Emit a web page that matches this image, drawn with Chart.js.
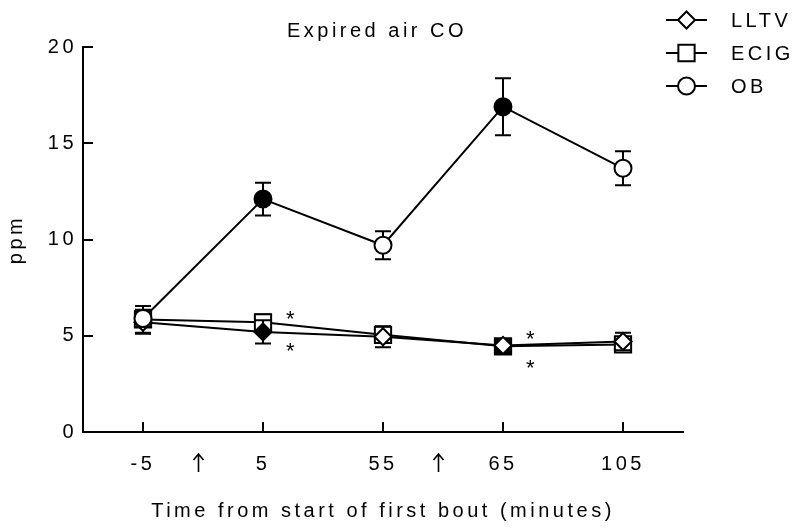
<!DOCTYPE html>
<html>
<head>
<meta charset="utf-8">
<script src="https://cdn.jsdelivr.net/npm/chart.js@4"></script>
<style>
  body { margin: 0; background: #fff; }
</style>
</head>
<body>
<canvas id="co_chart" width="800" height="532"></canvas>
<script>
const time_labels = ["-5", "5", "55", "65", "105"];
const lltv_mean = [5.7, 5.2, 4.95, 4.5, 4.7];
const lltv_sem = [0.6, 0.6, 0.55, 0.25, 0.45];
const lltv_fill = ["#fff", "#000", "#fff", "#fff", "#fff"];
const ecig_mean = [5.85, 5.7, 5.05, 4.45, 4.55];
const ecig_sem = [0.7, 0.4, 0.4, 0.3, 0.2];
const ecig_fill = ["#fff", "#fff", "#fff", "#000", "#fff"];
const ob_mean = [5.9, 12.1, 9.7, 16.9, 13.7];
const ob_sem = [0.45, 0.85, 0.73, 1.48, 0.88];
const ob_fill = ["#fff", "#000", "#fff", "#000", "#fff"];
// significance marks: category index and the value the * sits at
const star_index = [1, 1, 3, 3];
const star_value = [5.8, 4.15, 4.8, 3.3];
// a bout starts between category i and i + 1
const bout_after = [0, 2];

const font_family = '"Liberation Sans", Arial, sans-serif';
const letter_spacing = "3.5px";

const set_spacing = (chart) => {
  chart.ctx.letterSpacing = letter_spacing;
};

const draw_marker = (ctx, style, x, y, r, fill) => {
  ctx.beginPath();
  if (style === "circle") ctx.arc(x, y, r, 0, Math.PI * 2);
  else if (style === "rect") {
    const s = r * Math.SQRT1_2;
    ctx.rect(x - s, y - s, 2 * s, 2 * s);
  }
  else {
    ctx.moveTo(x - r, y);
    ctx.lineTo(x, y - r);
    ctx.lineTo(x + r, y);
    ctx.lineTo(x, y + r);
    ctx.closePath();
  }
  ctx.fillStyle = fill;
  ctx.fill();
  ctx.stroke();
};

const spacing_plugin = {
  id: "spacing",
  beforeUpdate: set_spacing,
  beforeLayout: set_spacing,
  beforeDraw: set_spacing,
};

const error_bar_plugin = {
  id: "error_bars",
  beforeDatasetDraw: (chart, args) => {
    const dataset = chart.data.datasets[args.index];
    const y_scale = chart.scales.y;
    const ctx = chart.ctx;
    ctx.save();
    ctx.strokeStyle = "#000";
    ctx.lineWidth = 2;
    args.meta.data.forEach((point, i) => {
      const top = y_scale.getPixelForValue(dataset.data[i] + dataset.sem[i]);
      const bottom = y_scale.getPixelForValue(dataset.data[i] - dataset.sem[i]);
      ctx.beginPath();
      ctx.moveTo(point.x, top);
      ctx.lineTo(point.x, bottom);
      ctx.moveTo(point.x - 8, top);
      ctx.lineTo(point.x + 8, top);
      ctx.moveTo(point.x - 8, bottom);
      ctx.lineTo(point.x + 8, bottom);
      ctx.stroke();
    });
    ctx.restore();
  },
};

const extras_plugin = {
  id: "extras",
  afterDraw: (chart) => {
    const ctx = chart.ctx;
    const area = chart.chartArea;
    const x_scale = chart.scales.x;
    const y_scale = chart.scales.y;
    ctx.save();
    ctx.letterSpacing = letter_spacing;
    ctx.strokeStyle = "#000";
    ctx.fillStyle = "#000";
    ctx.lineWidth = 2;

    // inward tick marks
    ctx.beginPath();
    x_scale.ticks.forEach((tick, i) => {
      const x = Math.round(x_scale.getPixelForTick(i));
      ctx.moveTo(x, area.bottom);
      ctx.lineTo(x, area.bottom - 10);
    });
    y_scale.ticks.forEach((tick, i) => {
      if (tick.value === 0) return;
      const y = Math.round(y_scale.getPixelForTick(i));
      ctx.moveTo(area.left, y);
      ctx.lineTo(area.left + 10, y);
    });
    ctx.stroke();

    // title
    ctx.font = `20px ${font_family}`;
    ctx.textAlign = "center";
    ctx.textBaseline = "middle";
    ctx.fillText("Expired air CO", (area.left + area.right) / 2 - 6, 31);

    // bout arrows between categories
    ctx.lineWidth = 1.6;
    bout_after.forEach((i) => {
      const x = Math.round((x_scale.getPixelForValue(i) + x_scale.getPixelForValue(i + 1)) / 2) - 4.5;
      ctx.beginPath();
      ctx.moveTo(x, 472);
      ctx.lineTo(x, 454);
      ctx.moveTo(x - 5, 460);
      ctx.lineTo(x, 454);
      ctx.lineTo(x + 5, 460);
      ctx.stroke();
    });
    ctx.lineWidth = 2;

    // significance stars
    ctx.font = `22px ${font_family}`;
    star_index.forEach((idx, i) => {
      ctx.fillText("*", x_scale.getPixelForValue(idx) + 29, y_scale.getPixelForValue(star_value[i]));
    });

    // legend
    ctx.font = `20px ${font_family}`;
    ctx.textAlign = "left";
    chart.data.datasets
      .slice()
      .sort((a, b) => a.legend_rank - b.legend_rank)
      .forEach((dataset, i) => {
        const y = 20 + i * 33;
        ctx.beginPath();
        ctx.moveTo(666, y);
        ctx.lineTo(707, y);
        ctx.stroke();
        draw_marker(ctx, dataset.pointStyle, 686.5, y, dataset.pointRadius, "#fff");
        ctx.fillStyle = "#000";
        ctx.fillText(dataset.label, 731, y + 1);
      });
    ctx.restore();
  },
};

const make_dataset = (label, mean, sem, fill, style, radius, order, legend_rank) => ({
  label: label,
  data: mean,
  sem: sem,
  legend_rank: legend_rank,
  order: order,
  borderColor: "#000",
  borderWidth: 2,
  tension: 0,
  pointStyle: style,
  pointRadius: radius,
  pointHoverRadius: radius,
  pointBorderWidth: 2,
  pointBorderColor: "#000",
  pointBackgroundColor: fill,
});

const config_co = {
  type: "line",
  data: {
    labels: time_labels,
    datasets: [
      make_dataset("LLTV", lltv_mean, lltv_sem, lltv_fill, "rectRot", 8.5, 1, 0),
      make_dataset("ECIG", ecig_mean, ecig_sem, ecig_fill, "rect", 11.5, 2, 1),
      make_dataset("OB", ob_mean, ob_sem, ob_fill, "circle", 8.5, 0, 2),
    ],
  },
  options: {
    responsive: false,
    animation: false,
    devicePixelRatio: 1,
    layout: { padding: { top: 47, right: 117, bottom: 0, left: 0 } },
    plugins: {
      legend: { display: false },
      tooltip: { enabled: false },
    },
    scales: {
      x: {
        type: "category",
        offset: true,
        grid: { display: false, drawTicks: false },
        border: { color: "#000", width: 2 },
        ticks: {
          color: "#000",
          font: { family: font_family, size: 20 },
          padding: 20,
          maxRotation: 0,
        },
        title: {
          display: true,
          text: "Time from start of first bout (minutes)",
          color: "#000",
          font: { family: font_family, size: 20 },
          padding: 9,
        },
        afterFit: (scale) => { scale.height = 100; },
      },
      y: {
        min: 0,
        max: 20,
        grid: { display: false, drawTicks: false },
        border: { color: "#000", width: 2 },
        ticks: {
          stepSize: 5,
          color: "#000",
          font: { family: font_family, size: 20 },
          padding: 6,
        },
        title: {
          display: true,
          text: "ppm",
          color: "#000",
          font: { family: font_family, size: 20 },
          padding: 4,
        },
        afterFit: (scale) => { scale.width = 83; },
      },
    },
  },
  plugins: [spacing_plugin, error_bar_plugin, extras_plugin],
};

var ctx_co = document.getElementById("co_chart");
var co_chart = new Chart(ctx_co, config_co);
</script>
</body>
</html>
